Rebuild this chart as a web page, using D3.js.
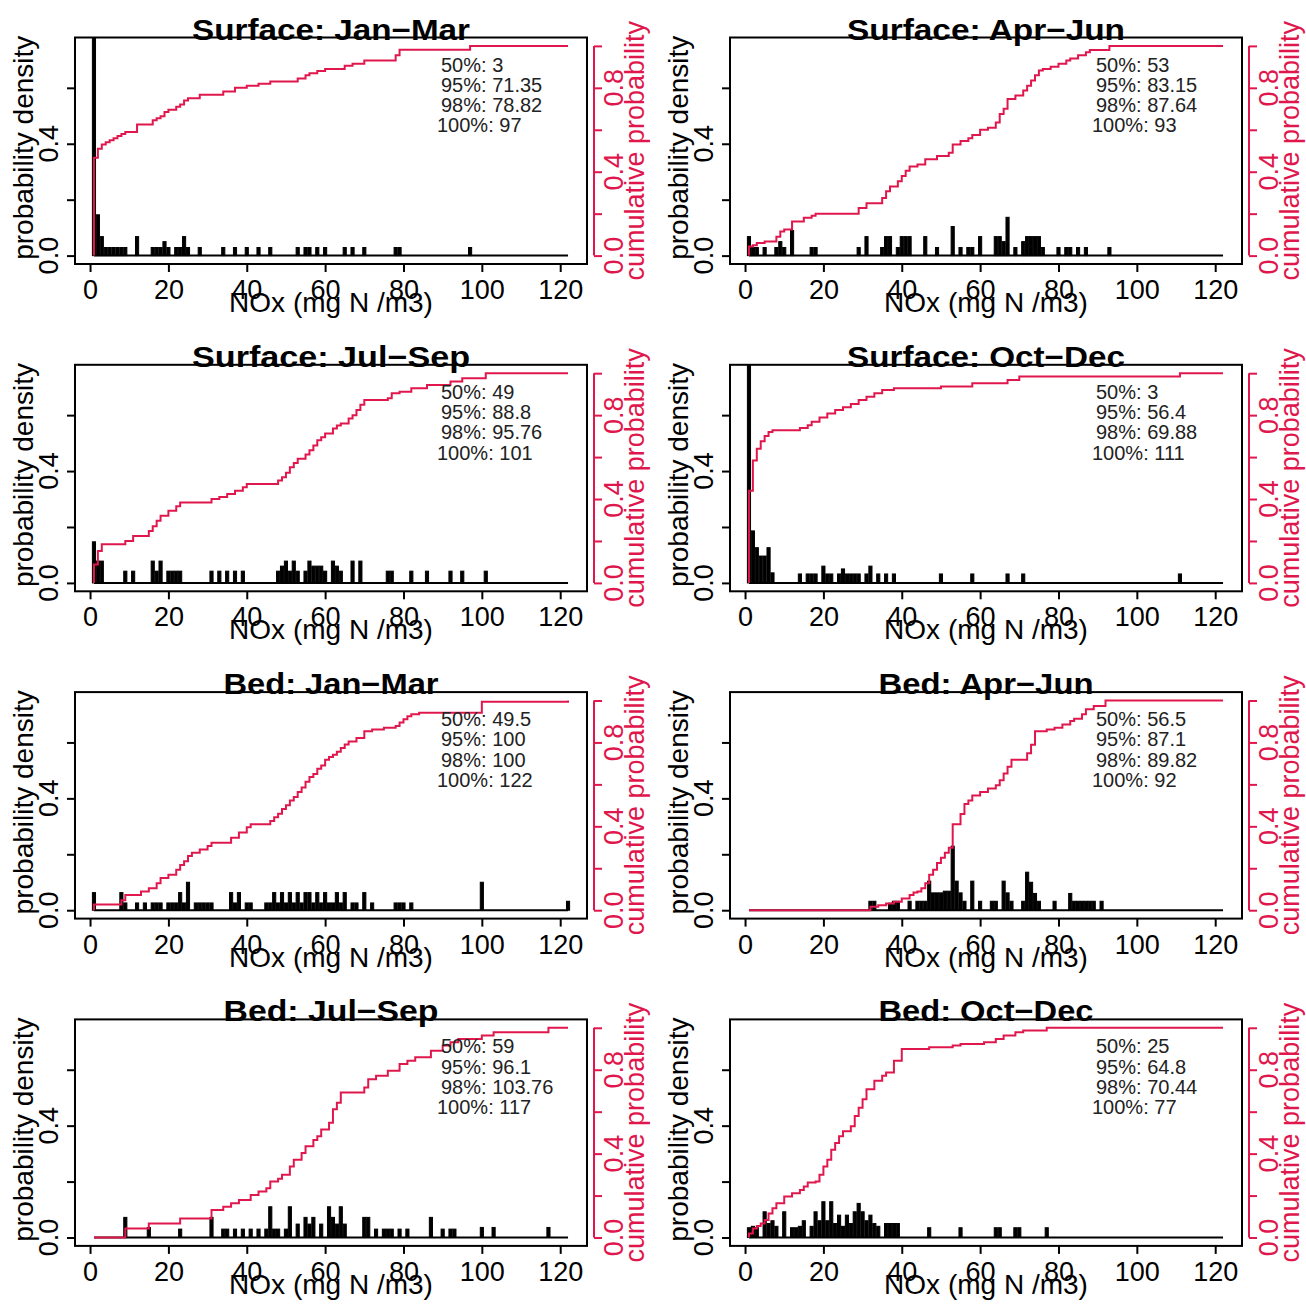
<!DOCTYPE html>
<html>
<head>
<meta charset="utf-8">
<style>
  body { margin: 0; background: #fff; }
  svg text { font-family: "Liberation Sans", Arial, Helvetica, sans-serif; }
</style>
</head>
<body>
<script src="https://d3js.org/d3.v7.min.js"></script>
<script>
// ---- data ----
const panelTitles = ["Surface: Jan\u2212Mar", "Surface: Apr\u2212Jun", "Surface: Jul\u2212Sep", "Surface: Oct\u2212Dec",
  "Bed: Jan\u2212Mar", "Bed: Apr\u2212Jun", "Bed: Jul\u2212Sep", "Bed: Oct\u2212Dec"];

const quantileNames = ["50%", "95%", "98%", "100%"];
const quantileValues = [
  ["3", "71.35", "78.82", "97"],
  ["53", "83.15", "87.64", "93"],
  ["49", "88.8", "95.76", "101"],
  ["3", "56.4", "69.88", "111"],
  ["49.5", "100", "100", "122"],
  ["56.5", "87.1", "89.82", "92"],
  ["59", "96.1", "103.76", "117"],
  ["25", "64.8", "70.44", "77"]
];

const xTicks = [0, 20, 40, 60, 80, 100, 120];
const densTicks = [0, 0.2, 0.4, 0.6];
const densLabels = [0, 0.4];
const cumTicks = [0, 0.2, 0.4, 0.6, 0.8, 1];
const cumLabels = [0, 0.4, 0.8];

// histogram bars: [NOx, density]
const surfJanMarBars = [[1,0.9],[2,0.146],[3,0.068],[4,0.029],[5,0.029],[6,0.029],[7,0.029],[8,0.029],[9,0.029],
  [12,0.068],[16,0.029],[17,0.029],[18,0.029],[19,0.05],[20,0.029],[22,0.029],[23,0.029],[24,0.068],[25,0.029],
  [28,0.029],[34,0.029],[37,0.029],[40,0.029],[43,0.029],[46,0.029],[53,0.029],[55,0.029],[56,0.029],[58,0.029],
  [60,0.029],[65,0.029],[67,0.029],[70,0.029],[78,0.029],[79,0.029],[97,0.029]];
const surfAprJunBars = [[1,0.068],[2,0.029],[3,0.029],[5,0.029],[8,0.029],[9,0.05],[10,0.029],[12,0.09],[17,0.029],
  [18,0.029],[29,0.029],[31,0.068],[35,0.029],[36,0.068],[37,0.068],[39,0.029],[40,0.068],[41,0.068],[42,0.068],
  [46,0.068],[49,0.029],[53,0.104],[55,0.029],[57,0.029],[58,0.029],[60,0.068],[64,0.068],[65,0.068],[66,0.05],
  [67,0.137],[69,0.029],[71,0.05],[72,0.068],[73,0.068],[74,0.068],[75,0.068],[76,0.029],[80,0.029],[82,0.029],
  [83,0.029],[85,0.029],[87,0.029],[93,0.029]];
const surfJulSepBars = [[1,0.147],[2,0.078],[3,0.078],[9,0.042],[11,0.042],[16,0.078],[17,0.042],[18,0.078],
  [20,0.042],[21,0.042],[22,0.042],[23,0.042],[31,0.042],[33,0.042],[35,0.042],[37,0.042],[39,0.042],[48,0.042],
  [49,0.06],[50,0.078],[51,0.042],[52,0.078],[53,0.042],[55,0.042],[56,0.078],[57,0.06],[58,0.06],[59,0.06],
  [60,0.042],[62,0.078],[63,0.06],[64,0.042],[67,0.078],[69,0.078],[76,0.042],[77,0.042],[82,0.042],[86,0.042],
  [92,0.042],[95,0.042],[101,0.042]];
const surfOctDecBars = [[1,0.9],[2,0.186],[3,0.126],[4,0.096],[5,0.096],[6,0.126],[7,0.036],[14,0.032],[16,0.032],
  [17,0.032],[18,0.032],[20,0.06],[21,0.032],[22,0.032],[24,0.032],[25,0.05],[26,0.032],[27,0.032],[28,0.032],
  [29,0.032],[31,0.032],[32,0.06],[34,0.032],[36,0.032],[38,0.032],[50,0.032],[58,0.032],[67,0.032],[71,0.032],
  [111,0.032]];
const bedJanMarBars = [[1,0.063],[8,0.063],[9,0.026],[12,0.026],[14,0.026],[16,0.026],[17,0.026],[18,0.026],
  [20,0.026],[21,0.026],[22,0.026],[23,0.063],[24,0.026],[25,0.1],[27,0.026],[28,0.026],[29,0.026],[30,0.026],
  [31,0.026],[36,0.063],[37,0.026],[38,0.063],[40,0.026],[41,0.026],[45,0.026],[46,0.026],[47,0.063],[48,0.026],
  [49,0.063],[50,0.026],[51,0.063],[52,0.026],[53,0.063],[54,0.026],[55,0.063],[56,0.063],[57,0.026],[58,0.063],
  [59,0.026],[60,0.063],[61,0.026],[62,0.026],[63,0.063],[64,0.026],[65,0.063],[67,0.026],[68,0.026],[70,0.063],
  [72,0.026],[78,0.026],[79,0.026],[80,0.026],[82,0.026],[100,0.1],[122,0.032]];
const bedAprJunBars = [[32,0.032],[33,0.032],[37,0.025],[38,0.032],[39,0.032],[42,0.032],[44,0.032],[45,0.032],
  [46,0.032],[47,0.104],[48,0.062],[49,0.062],[50,0.062],[51,0.068],[52,0.068],[53,0.229],[54,0.104],[55,0.062],
  [56,0.032],[58,0.104],[60,0.032],[63,0.032],[64,0.032],[66,0.104],[67,0.062],[68,0.032],[71,0.032],[72,0.136],
  [73,0.1],[74,0.06],[75,0.032],[79,0.032],[83,0.06],[84,0.032],[85,0.032],[86,0.032],[87,0.032],[88,0.032],
  [89,0.032],[91,0.032]];
const bedJulSepBars = [[9,0.072],[15,0.036],[23,0.03],[31,0.072],[34,0.03],[35,0.03],[37,0.03],[39,0.03],[41,0.03],
  [43,0.03],[45,0.03],[46,0.11],[47,0.03],[48,0.03],[50,0.03],[51,0.11],[53,0.048],[55,0.072],[56,0.048],[57,0.072],
  [59,0.048],[61,0.11],[62,0.072],[63,0.048],[64,0.11],[65,0.048],[70,0.072],[71,0.072],[73,0.03],[75,0.03],
  [76,0.03],[77,0.03],[79,0.03],[81,0.03],[87,0.072],[90,0.03],[92,0.03],[93,0.03],[100,0.036],[103,0.036],
  [117,0.036]];
const bedOctDecBars = [[1,0.035],[2,0.04],[3,0.035],[5,0.092],[6,0.05],[7,0.06],[8,0.04],[10,0.092],[12,0.035],
  [13,0.035],[14,0.04],[15,0.06],[17,0.04],[18,0.092],[19,0.06],[20,0.128],[21,0.06],[22,0.128],[23,0.05],
  [24,0.08],[25,0.04],[26,0.08],[27,0.05],[28,0.092],[29,0.122],[30,0.092],[31,0.06],[32,0.08],[33,0.05],
  [34,0.04],[36,0.05],[37,0.05],[38,0.05],[39,0.05],[47,0.035],[55,0.035],[64,0.035],[65,0.035],[69,0.035],
  [70,0.035],[77,0.035]];

// cumulative probability steps: [NOx, probability after the step]
const surfJanMarCdf = [[1,0.467],[2,0.51],[3,0.53],[4,0.54],[5,0.55],[6,0.56],[7,0.57],[8,0.58],[9,0.59],[12,0.625],
  [16,0.645],[17,0.655],[18,0.665],[19,0.685],[20,0.695],[22,0.71],[23,0.72],[24,0.74],[25,0.75],[28,0.767],
  [34,0.783],[37,0.8],[40,0.81],[43,0.82],[46,0.83],[53,0.845],[55,0.86],[56,0.87],[58,0.88],[60,0.89],[65,0.905],
  [67,0.915],[70,0.93],[78,0.955],[79,0.982],[97,1]];
const surfAprJunCdf = [[1,0.043],[2,0.05],[3,0.06],[5,0.067],[8,0.09],[9,0.115],[10,0.125],[12,0.163],[15,0.18],
  [17,0.19],[18,0.2],[29,0.227],[31,0.25],[35,0.275],[36,0.307],[37,0.33],[39,0.355],[40,0.38],[41,0.405],[42,0.425],
  [44,0.435],[46,0.46],[49,0.475],[52,0.49],[53,0.53],[55,0.547],[57,0.56],[58,0.575],[60,0.6],[62,0.61],[64,0.635],
  [65,0.675],[66,0.7],[67,0.747],[69,0.763],[71,0.787],[72,0.81],[73,0.835],[74,0.86],[75,0.883],[76,0.89],
  [78,0.9],[80,0.915],[82,0.93],[83,0.94],[85,0.955],[87,0.97],[88,0.98],[93,1]];
const surfJulSepCdf = [[1,0.088],[2,0.152],[3,0.184],[9,0.2],[11,0.224],[15,0.248],[16,0.27],[17,0.296],[18,0.32],
  [20,0.344],[22,0.365],[23,0.384],[31,0.4],[33,0.41],[35,0.424],[37,0.44],[39,0.456],[40,0.472],[48,0.488],
  [49,0.504],[50,0.525],[51,0.552],[52,0.572],[53,0.592],[55,0.612],[56,0.632],[57,0.655],[58,0.68],[59,0.695],
  [60,0.712],[62,0.736],[63,0.75],[64,0.76],[66,0.784],[67,0.8],[68,0.824],[69,0.85],[70,0.872],[76,0.88],
  [77,0.904],[79,0.912],[82,0.928],[86,0.944],[92,0.96],[95,0.976],[101,1]];
const surfOctDecCdf = [[1,0.44],[2,0.584],[3,0.64],[4,0.675],[5,0.7],[6,0.72],[7,0.728],[14,0.739],[16,0.752],
  [17,0.768],[19,0.789],[21,0.808],[23,0.824],[25,0.837],[27,0.853],[29,0.872],[31,0.888],[33,0.904],[35,0.92],
  [38,0.928],[50,0.936],[58,0.952],[67,0.968],[70,0.984],[111,1]];
const bedJanMarCdf = [[1,0.027],[8,0.048],[9,0.072],[13,0.089],[15,0.105],[17,0.129],[18,0.153],[20,0.169],
  [22,0.193],[23,0.215],[24,0.233],[25,0.258],[26,0.274],[28,0.29],[30,0.306],[31,0.322],[36,0.346],[38,0.37],
  [40,0.395],[41,0.41],[46,0.425],[47,0.443],[48,0.46],[49,0.483],[50,0.5],[51,0.523],[52,0.54],[53,0.564],
  [54,0.585],[55,0.612],[56,0.635],[57,0.65],[58,0.675],[59,0.69],[60,0.717],[61,0.73],[62,0.741],[63,0.755],
  [64,0.773],[65,0.79],[66,0.805],[68,0.821],[70,0.853],[72,0.862],[75,0.87],[78,0.878],[79,0.895],[80,0.91],
  [81,0.925],[82,0.934],[84,0.942],[100,0.994],[122,1]];
const bedAprJunCdf = [[32,0.016],[34,0.024],[36,0.032],[38,0.04],[40,0.056],[42,0.072],[43,0.084],[44,0.089],
  [45,0.105],[46,0.129],[47,0.169],[48,0.193],[49,0.225],[50,0.25],[51,0.274],[52,0.298],[53,0.41],[55,0.459],
  [56,0.507],[57,0.523],[58,0.547],[60,0.564],[62,0.58],[64,0.596],[65,0.62],[66,0.652],[67,0.684],[68,0.717],
  [72,0.749],[73,0.789],[74,0.853],[77,0.862],[79,0.87],[81,0.886],[83,0.902],[84,0.913],[86,0.934],[87,0.958],
  [89,0.974],[92,1]];
const bedJulSepCdf = [[9,0.043],[15,0.067],[23,0.091],[31,0.131],[34,0.147],[36,0.163],[38,0.179],[41,0.203],
  [43,0.219],[45,0.235],[46,0.267],[48,0.28],[49,0.299],[51,0.339],[52,0.371],[54,0.403],[55,0.435],[57,0.465],
  [58,0.483],[59,0.515],[61,0.547],[62,0.611],[63,0.643],[64,0.691],[70,0.715],[71,0.755],[73,0.771],[76,0.795],
  [79,0.827],[81,0.843],[83,0.859],[87,0.891],[90,0.915],[92,0.931],[94,0.947],[100,0.963],[103,0.979],[117,1]];
const bedOctDecCdf = [[1,0.019],[2,0.043],[3,0.055],[4,0.067],[5,0.083],[6,0.115],[7,0.139],[8,0.163],[10,0.195],
  [12,0.211],[14,0.227],[15,0.243],[16,0.262],[18,0.267],[19,0.299],[20,0.339],[21,0.371],[22,0.419],[23,0.451],
  [24,0.483],[25,0.507],[27,0.531],[28,0.579],[29,0.619],[30,0.659],[31,0.707],[33,0.747],[35,0.771],[36,0.787],
  [38,0.843],[40,0.899],[47,0.907],[53,0.915],[55,0.923],[61,0.931],[64,0.947],[66,0.963],[69,0.979],[71,0.987],
  [77,1]];

const panelBars = [surfJanMarBars, surfAprJunBars, surfJulSepBars, surfOctDecBars,
  bedJanMarBars, bedAprJunBars, bedJulSepBars, bedOctDecBars];
const panelCdf = [surfJanMarCdf, surfAprJunCdf, surfJulSepCdf, surfOctDecCdf,
  bedJanMarCdf, bedAprJunCdf, bedJulSepCdf, bedOctDecCdf];

// ---- layout ----
const W = 1306, H = 1307;
const boxW = 512, boxH = 226.5;
const colLeft = [75, 730];
const rowTop = [37.5, 364.8, 692.1, 1019.4];
const red = "#e0174d";
const xMin = 1, xMax = 122;

const svg = d3.select("body").append("svg")
  .attr("width", W)
  .attr("height", H)
  .style("background", "#fff");

panelTitles.forEach((title, i) => {
  const r = Math.floor(i / 2), c = i % 2;
  const x0 = colLeft[c], y0 = rowTop[r];

  const x = d3.scaleLinear().domain([xMin - 0.04 * (xMax - xMin), xMax + 0.04 * (xMax - xMin)]).range([x0, x0 + boxW]);
  const yD = d3.scaleLinear().domain([-0.03, 0.78]).range([y0 + boxH, y0]);
  const yF = d3.scaleLinear().domain([-0.04, 1.04]).range([y0 + boxH, y0]);

  const g = svg.append("g");

  g.append("clipPath").attr("id", "clip" + i)
    .append("rect")
    .attr("x", x0).attr("y", y0).attr("width", boxW).attr("height", boxH);

  const plot = g.append("g").attr("clip-path", "url(#clip" + i + ")");

  // histogram bars
  plot.selectAll("rect.bar")
    .data(panelBars[i])
    .enter()
    .append("rect")
    .attr("class", "bar")
    .attr("x", d => x(d[0] - 0.4))
    .attr("width", d => x(d[0] + 0.4) - x(d[0] - 0.4))
    .attr("y", d => yD(d[1]))
    .attr("height", d => yD(0) - yD(d[1]))
    .attr("fill", "#000")
    .attr("stroke", "#000")
    .attr("stroke-width", 1);

  // zero line of the histogram
  plot.append("line")
    .attr("x1", x(xMin)).attr("x2", x(xMax))
    .attr("y1", yD(0)).attr("y2", yD(0))
    .attr("stroke", "#000").attr("stroke-width", 2);

  // cumulative probability
  const pts = [[xMin, 0]].concat(panelCdf[i]).concat([[xMax, 1]]);
  const line = d3.line()
    .x(d => x(d[0]))
    .y(d => yF(d[1]))
    .curve(d3.curveStepAfter);
  plot.append("path")
    .attr("d", line(pts))
    .attr("fill", "none")
    .attr("stroke", red)
    .attr("stroke-width", 2);

  // box
  g.append("rect")
    .attr("x", x0).attr("y", y0).attr("width", boxW).attr("height", boxH)
    .attr("fill", "none").attr("stroke", "#000").attr("stroke-width", 2);

  // bottom axis
  const xAxis = d3.axisBottom(x).tickValues(xTicks).tickSize(8).tickPadding(8).tickSizeOuter(0);
  const gx = g.append("g")
    .attr("transform", "translate(0," + (y0 + boxH) + ")")
    .call(xAxis);
  gx.select(".domain").remove();
  gx.selectAll("line").attr("stroke", "#000").attr("stroke-width", 2);
  gx.selectAll("text").attr("font-size", 27).attr("fill", "#000")
    .attr("font-family", "Liberation Sans, Arial, sans-serif");

  g.append("text")
    .attr("x", x0 + boxW / 2)
    .attr("y", y0 + boxH + 48)
    .attr("text-anchor", "middle")
    .attr("font-size", 28)
    .text("NOx (mg N /m3)");

  // left axis
  const yAxis = d3.axisLeft(yD).tickValues(densTicks).tickSize(8).tickFormat("");
  const gy = g.append("g")
    .attr("transform", "translate(" + x0 + ",0)")
    .call(yAxis);
  gy.select(".domain").remove();
  gy.selectAll("line").attr("stroke", "#000").attr("stroke-width", 2);

  g.selectAll("text.dens")
    .data(densLabels)
    .enter()
    .append("text")
    .attr("class", "dens")
    .attr("transform", d => "translate(" + (x0 - 17) + "," + yD(d) + ") rotate(-90)")
    .attr("text-anchor", "middle")
    .attr("font-size", 27)
    .text(d => d.toFixed(1));

  g.append("text")
    .attr("transform", "translate(" + (x0 - 42) + "," + (y0 + boxH / 2 - 3) + ") rotate(-90)")
    .attr("text-anchor", "middle")
    .attr("font-size", 28)
    .text("probability density");

  // right axis (cumulative)
  const ax = x0 + boxW + 7;
  const fAxis = d3.axisRight(yF).tickValues(cumTicks).tickSize(8).tickFormat("");
  const gf = g.append("g")
    .attr("transform", "translate(" + ax + ",0)")
    .call(fAxis);
  gf.select(".domain").remove();
  gf.selectAll("line").attr("stroke", red).attr("stroke-width", 2);
  g.append("line")
    .attr("x1", ax).attr("x2", ax)
    .attr("y1", yF(0)).attr("y2", yF(1))
    .attr("stroke", red).attr("stroke-width", 2);

  g.selectAll("text.cum")
    .data(cumLabels)
    .enter()
    .append("text")
    .attr("class", "cum")
    .attr("transform", d => "translate(" + (ax + 29) + "," + yF(d) + ") rotate(-90)")
    .attr("text-anchor", "middle")
    .attr("font-size", 27)
    .attr("fill", red)
    .text(d => d.toFixed(1));

  g.append("text")
    .attr("transform", "translate(" + (ax + 50) + "," + (y0 + boxH / 2) + ") rotate(-90)")
    .attr("text-anchor", "middle")
    .attr("font-size", 27)
    .attr("fill", red)
    .text("cumulative probability");

  // title
  g.append("text")
    .attr("x", x0 + boxW / 2)
    .attr("y", y0 + 2)
    .attr("text-anchor", "middle")
    .attr("font-size", 29)
    .attr("font-weight", "bold")
    .attr("textLength", title.startsWith("Bed") ? 215 : 278)
    .attr("lengthAdjust", "spacingAndGlyphs")
    .text(title);

  // quantile text
  g.selectAll("text.q")
    .data(quantileNames)
    .enter()
    .append("text")
    .attr("class", "q")
    .attr("x", (d, k) => x0 + (k === 3 ? 362 : 366))
    .attr("y", (d, k) => y0 + 34 + 20.3 * k)
    .attr("font-size", 20)
    .attr("fill", "#222")
    .text((d, k) => d + ": " + quantileValues[i][k]);
});
</script>
</body>
</html>
